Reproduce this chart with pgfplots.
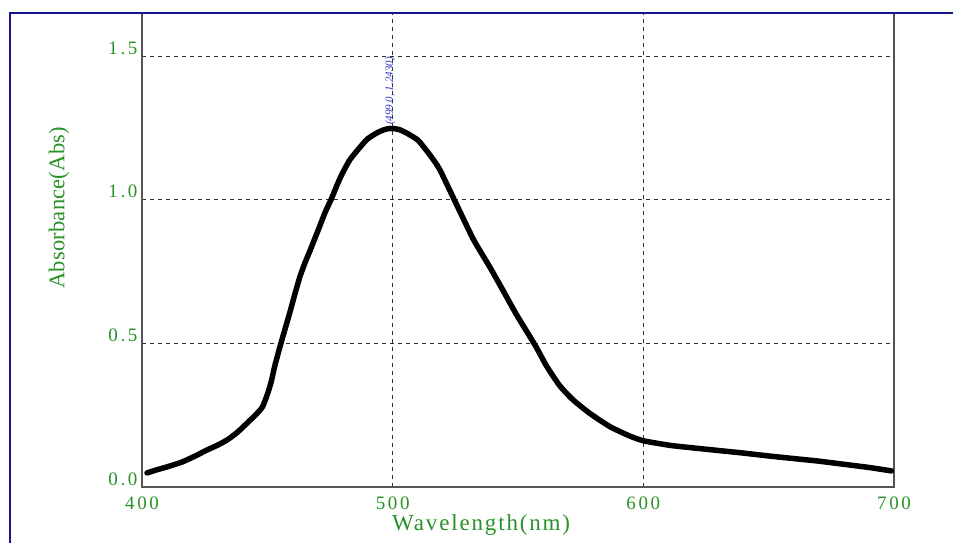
\documentclass[border=0pt]{standalone}
\usepackage{pgfplots}
\pgfplotsset{compat=1.18}
\usepackage{fontspec}
\setmainfont{Liberation Serif}
\newfontfamily\tickfont[LetterSpace=14]{Liberation Serif}
\newfontfamily\xlabfont[LetterSpace=8]{Liberation Serif}
\newfontfamily\ylabfont[LetterSpace=1]{Liberation Serif}
\definecolor{lblgreen}{RGB}{40,145,40}
\definecolor{framenavy}{RGB}{20,20,140}
\definecolor{gridgray}{RGB}{50,50,50}
\definecolor{axgray}{RGB}{85,85,85}
\definecolor{annblue}{RGB}{50,50,190}
\begin{document}
\begin{tikzpicture}[x=1pt,y=1pt]
\path[use as bounding box] (0,0) rectangle (953,543);
\begin{axis}[
  at={(142pt,56pt)}, anchor=south west,
  scale only axis, width=752pt, height=474pt,
  xmin=400, xmax=700, ymin=0, ymax=1.65,
  xtick={400,500,600,700}, xticklabels={400,500,600,700},
  ytick={0,0.5,1,1.5}, yticklabels={0.0,0.5,1.0,1.5},
  major tick length=0pt,
  axis line style={axgray, line width=2.5pt},
  grid=major,
  major grid style={gridgray, line width=1pt, dash pattern=on 4pt off 4pt},
  xticklabel style={font=\fontsize{19}{21}\tickfont, text=lblgreen, anchor=north, yshift=-6pt},
  yticklabel style={font=\fontsize{19}{21}\tickfont, text=lblgreen, anchor=south east, xshift=-1pt, yshift=-2pt},
  xlabel={Wavelength(nm)},
  ylabel={Absorbance(Abs)},
  xlabel style={font=\fontsize{23}{26}\xlabfont, text=lblgreen, at={(axis description cs:0.451,0)}, anchor=north, yshift=-24pt},
  ylabel style={font=\fontsize{22.5}{25}\ylabfont, text=lblgreen, at={(axis description cs:0,0.589)}, anchor=center, xshift=0pt, yshift=83pt},
  clip=false,
]
\addplot[black, line width=5.5pt, line join=round, line cap=round, smooth, tension=0.35] coordinates {
(402,0.049) (406,0.060) (410,0.070) (416,0.087) (421,0.107) (426,0.129)
(430,0.145) (434,0.164) (438,0.190) (442,0.223) (445,0.248) (448,0.278)
(450,0.322) (451.5,0.365) (453,0.422) (455,0.487) (457,0.548) (459,0.608)
(461,0.672) (463,0.732) (465,0.780) (467,0.822) (469,0.866) (471,0.910)
(473,0.955) (475.5,1.002) (478,1.055) (480,1.093) (483,1.140) (487,1.183)
(490,1.212) (494,1.234) (497,1.245) (499,1.248) (501,1.247) (503,1.243)
(506,1.230) (510,1.208) (513,1.177) (516,1.142) (518.9,1.103)
(525.5,0.983) (532.2,0.862) (538.8,0.765) (544.1,0.683) (549.4,0.600)
(556.8,0.494) (561.4,0.421) (566.7,0.352) (572.0,0.303) (578.7,0.256)
(586.7,0.210) (594.7,0.177) (600,0.161) (610.6,0.145) (620,0.136) (630,0.127)
(640,0.118) (650,0.108) (660,0.099) (670,0.090) (680,0.079) (690,0.068) (699,0.056)
};
\node[rotate=90, anchor=west, inner sep=1pt, text=annblue, font=\fontsize{11}{13}\selectfont\itshape] at (axis cs:499,1.256) {(499.0, 1.2430)};
\end{axis}
\draw[framenavy, line width=2pt] (10,0) -- (10,530) -- (953,530);
\end{tikzpicture}
\end{document}
